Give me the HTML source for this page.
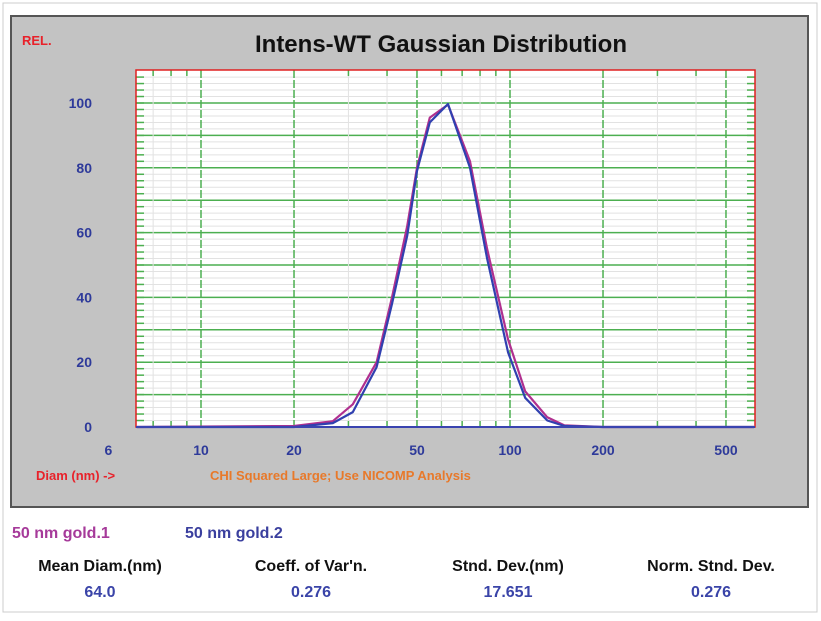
<!DOCTYPE html>
<html><head><meta charset="utf-8"><style>
body{margin:0;background:#fff;width:821px;height:616px;overflow:hidden;font-family:"Liberation Sans",sans-serif}
svg text{font-family:"Liberation Sans",sans-serif}
</style></head><body>
<svg id="c" width="821" height="616">
<rect x="3" y="3" width="814" height="609" fill="#fff" stroke="#ccc"/>
<rect x="11" y="16" width="797" height="491" fill="#c3c3c3" stroke="#555" stroke-width="2"/>
<text x="22" y="45" fill="#e8212a" font-weight="bold" font-size="13">REL.</text>
<text x="441" y="52" text-anchor="middle" font-size="24" font-weight="bold" fill="#111">Intens-WT Gaussian Distribution</text>
<rect x="136" y="70" width="619" height="357" fill="#fff"/>
<g id="grid"></g>
<g id="series"></g>
<rect x="136" y="70" width="619" height="357" fill="none" stroke="#e02020" stroke-width="1.5"/>
<line x1="136" y1="427" x2="755" y2="427" stroke="#3a44b0" stroke-width="2"/>
<g id="labels"></g>
<text x="36" y="480" fill="#e8212a" font-weight="bold" font-size="13">Diam (nm) -&gt;</text>
<text x="210" y="480" fill="#e8792a" font-weight="bold" font-size="13">CHI Squared Large; Use NICOMP Analysis</text>
<text x="12" y="538" fill="#a63a9a" font-weight="bold" font-size="16">50 nm gold.1</text>
<text x="185" y="538" fill="#3a3f9e" font-weight="bold" font-size="16">50 nm gold.2</text>
<g font-weight="bold" font-size="16" text-anchor="middle">
<text x="100" y="571" fill="#111">Mean Diam.(nm)</text>
<text x="100" y="597" fill="#3a44a8">64.0</text>
<text x="311" y="571" fill="#111">Coeff. of Var'n.</text>
<text x="311" y="597" fill="#3a44a8">0.276</text>
<text x="508" y="571" fill="#111">Stnd. Dev.(nm)</text>
<text x="508" y="597" fill="#3a44a8">17.651</text>
<text x="711" y="571" fill="#111">Norm. Stnd. Dev.</text>
<text x="711" y="597" fill="#3a44a8">0.276</text>
</g>
</svg>
<script>
const xTicks=[6,10,20,50,100,200,500];
const xMajor=[10,20,50,100,200,500];
const xMinor=[7,8,9,30,40,60,70,80,90,300,400];
const yTicks=[0,20,40,60,80,100];
const diam1=[6.2,20,26.7,31,37,41.5,46.5,50,55,63,74.2,84.3,98.6,112,132,150,200,616];
const gold1=[0,0.3,1.8,7,20,40,62,80,95.5,99.5,82,55,27,11,3,0.5,0,0];
const diam2=[6.2,20,26.7,31,37,41.5,46.5,50,55,63,74.2,84.3,98.6,112,132,150,200,616];
const gold2=[0,0,1.2,4.6,18.5,38,59,79,94,99.7,80,52,23,9,2,0.3,0,0];
const NS='http://www.w3.org/2000/svg';
const X0=136,X1=755,Y0=427,Y100=103;
function xs(d){return 201+(Math.log10(d)-1)*309;}
function ys(v){return Y0-(Y0-Y100)*v/100;}
function mk(t,a,p){const e=document.createElementNS(NS,t);for(const k in a)e.setAttribute(k,a[k]);p.appendChild(e);return e;}
const g=document.getElementById('grid');
for(let v=2;v<=108;v+=2){const y=ys(v);if(y<71)break;
 const major=v%10===0;
 const l=mk('line',{x1:X0,x2:X1,y1:y,y2:y,stroke:major?'#4caf50':'#e2e2e2','stroke-width':major?1.5:1},g);
 
 
 const t1=mk('line',{x1:X0,x2:X0+8,y1:y,y2:y,stroke:'#4caf50','stroke-width':1.5},g);
 
 
 const t2=mk('line',{x1:X1-8,x2:X1,y1:y,y2:y,stroke:'#4caf50','stroke-width':1.5},g);
 
 
}
xMinor.forEach(d=>{const x=xs(d);
 const l=mk('line',{x1:x,x2:x,y1:70,y2:427,stroke:'#e2e2e2'},g);
 
 
 const t=mk('line',{x1:x,x2:x,y1:70,y2:76,stroke:'#4caf50','stroke-width':1.5},g);
 
 
 const b=mk('line',{x1:x,x2:x,y1:421,y2:427,stroke:'#4caf50','stroke-width':1.5},g);
 
 
});
xMajor.forEach(d=>{const x=xs(d);
 const l=mk('line',{x1:x,x2:x,y1:70,y2:427,stroke:'#4caf50','stroke-width':1.5,'stroke-dasharray':'8 2'},g);
 
 
});
const s=document.getElementById('series');
function line(ds,vs,col,name){
 const p=mk('polyline',{points:ds.map((d,i)=>xs(d).toFixed(1)+','+ys(vs[i]).toFixed(1)).join(' '),fill:'none',stroke:col,'stroke-width':2.2,'stroke-linejoin':'round'},s);
 
 
}
line(diam1,gold1,'#b0308f','series-gold1');
line(diam2,gold2,'#3040b0','series-gold2');
const lb=document.getElementById('labels');
yTicks.forEach(v=>{const t=mk('text',{x:92,y:ys(v)+5,'text-anchor':'end',fill:'#2e3a9a','font-weight':'bold','font-size':14},lb);t.textContent=v;
 
 });
xTicks.forEach(d=>{const t=mk('text',{x:xs(d)-(d===6?24:0),y:455,'text-anchor':'middle',fill:'#2e3a9a','font-weight':'bold','font-size':14},lb);t.textContent=d;
 
 });
</script>
</body></html>
